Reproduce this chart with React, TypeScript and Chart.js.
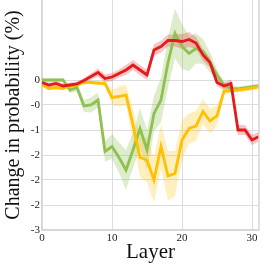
import React, { useEffect, useRef } from "react";
import { Chart, registerables } from "chart.js";

Chart.register(...registerables);

const layers = [0,1,2,3,4,5,6,7,8,9,10,11,12,13,14,15,16,17,18,19,20,21,22,23,24,25,26,27,28,29,30,31];

const greenValues = [0.0, 0.0, 0.0, 0.0, -0.2, -0.15, -0.52, -0.5, -0.4, -1.43, -1.33, -1.55, -1.8, -1.4, -0.97, -1.4, -0.67, -0.4, 0.35, 0.93, 0.67, 0.53, 0.63, 0.57, 0.35, 0.1, -0.1, -0.17, -0.18, -0.16, -0.14, -0.12];
const greenErr = [0.03, 0.03, 0.03, 0.03, 0.06, 0.08, 0.12, 0.15, 0.15, 0.2, 0.25, 0.3, 0.4, 0.35, 0.4, 0.4, 0.35, 0.45, 0.5, 0.5, 0.45, 0.35, 0.3, 0.25, 0.2, 0.12, 0.06, 0.05, 0.05, 0.05, 0.05, 0.05];

const yellowValues = [-0.1, -0.17, -0.15, -0.17, -0.12, -0.1, -0.05, -0.05, -0.06, -0.07, -0.35, -0.33, -0.3, -0.9, -1.55, -1.6, -2.0, -1.33, -1.92, -1.87, -1.2, -0.97, -0.92, -0.63, -0.82, -0.72, -0.22, -0.21, -0.2, -0.18, -0.16, -0.13];
const yellowErr = [0.04, 0.04, 0.04, 0.04, 0.04, 0.04, 0.04, 0.04, 0.04, 0.05, 0.15, 0.2, 0.2, 0.3, 0.4, 0.45, 0.45, 0.45, 0.5, 0.45, 0.4, 0.3, 0.3, 0.25, 0.25, 0.2, 0.08, 0.05, 0.05, 0.05, 0.05, 0.05];

const redValues = [-0.05, -0.1, -0.07, -0.12, -0.1, -0.08, -0.01, 0.07, 0.15, 0.03, 0.06, 0.13, 0.2, 0.3, 0.2, 0.1, 0.6, 0.67, 0.79, 0.79, 0.77, 0.81, 0.74, 0.5, 0.35, -0.05, -0.12, -0.07, -1.0, -1.0, -1.2, -1.13];
const redErr = [0.05, 0.05, 0.05, 0.05, 0.05, 0.05, 0.05, 0.06, 0.08, 0.08, 0.08, 0.08, 0.1, 0.1, 0.1, 0.1, 0.12, 0.12, 0.12, 0.12, 0.15, 0.15, 0.12, 0.12, 0.1, 0.08, 0.08, 0.08, 0.1, 0.1, 0.1, 0.1];

const yTickValues = [0, -0.5, -1, -1.5, -2, -2.5, -3];
const yTickLabels = ["0", "-0", "-1", "-2", "-2", "-2", "-3"];
const xTickValues = [0, 10, 20, 30];
const xTickLabels = ["0", "10", "20", "30"];

const GREEN = "#90c050";
const YELLOW = "#ffc000";
const RED = "#e41a1c";
const GREEN_BAND = "rgba(144,192,80,0.3)";
const YELLOW_BAND = "rgba(255,192,0,0.25)";
const RED_BAND = "rgba(228,26,28,0.25)";

const pts = (vals: number[]) => layers.map((l, i) => ({ x: l, y: vals[i] }));
const band = (vals: number[], err: number[], sign: number) =>
  layers.map((l, i) => ({ x: l, y: vals[i] + sign * err[i] }));

const lineDs = (label: string, vals: number[], color: string) => ({
  label,
  data: pts(vals),
  borderColor: color,
  backgroundColor: color,
  borderWidth: 2.8,
  pointRadius: 0,
  tension: 0,
  fill: false,
});

const bandDs = (label: string, vals: number[], err: number[], sign: number, color: string, fillNext: boolean) => ({
  label,
  data: band(vals, err, sign),
  borderColor: "rgba(0,0,0,0)",
  borderWidth: 0,
  backgroundColor: color,
  pointRadius: 0,
  tension: 0,
  fill: fillNext ? "+1" : false,
});

const rightBorder = {
  id: "rightBorder",
  afterDraw(chart: any) {
    const { ctx, chartArea } = chart;
    ctx.save();
    ctx.strokeStyle = "#d6d6d6";
    ctx.lineWidth = 1.5;
    ctx.beginPath();
    ctx.moveTo(chartArea.right, chartArea.top);
    ctx.lineTo(chartArea.right, chartArea.bottom);
    ctx.stroke();
    ctx.restore();
  },
};

export default function App() {
  const ref = useRef<HTMLCanvasElement | null>(null);
  useEffect(() => {
    document.body.style.margin = "0";
    if (!ref.current) return;
    const font = "'Liberation Serif', 'Times New Roman', serif";
    const chart = new Chart(ref.current, {
      type: "line",
      data: {
        datasets: [
          lineDs("red", redValues, RED),
          lineDs("yellow", yellowValues, YELLOW),
          lineDs("green", greenValues, GREEN),
          bandDs("redUp", redValues, redErr, 1, RED_BAND, true),
          bandDs("redLo", redValues, redErr, -1, RED_BAND, false),
          bandDs("yellowUp", yellowValues, yellowErr, 1, YELLOW_BAND, true),
          bandDs("yellowLo", yellowValues, yellowErr, -1, YELLOW_BAND, false),
          bandDs("greenUp", greenValues, greenErr, 1, GREEN_BAND, true),
          bandDs("greenLo", greenValues, greenErr, -1, GREEN_BAND, false),
        ] as any,
      },
      options: {
        animation: false,
        responsive: false,
        devicePixelRatio: 1,
        layout: { padding: { top: 0, right: 7, left: 0, bottom: 0 } },
        plugins: { legend: { display: false }, tooltip: { enabled: false } },
        scales: {
          x: {
            type: "linear",
            min: 0,
            max: 31,
            afterBuildTicks: (s: any) => {
              s.ticks = xTickValues.map((v) => ({ value: v }));
            },
            afterFit: (s: any) => {
              s.height = 36;
              s.paddingLeft = 0;
              s.paddingRight = 0;
            },
            ticks: {
              autoSkip: false,
              maxRotation: 0,
              padding: 2,
              color: "#222",
              font: { family: font, size: 11 },
              callback: (v: any) => {
                const i = xTickValues.indexOf(Number(v));
                return i >= 0 ? xTickLabels[i] : "";
              },
            },
            grid: { color: "#dcdcdc", lineWidth: 1, drawTicks: false },
            border: { color: "#d6d6d6", width: 1.5 },
            title: {
              display: true,
              text: "Layer",
              color: "#111",
              font: { family: font, size: 21 },
              padding: { top: 0, bottom: 1 },
            },
          },
          y: {
            type: "linear",
            min: -3,
            max: 1.6,
            afterBuildTicks: (s: any) => {
              s.ticks = yTickValues.map((v) => ({ value: v }));
            },
            afterFit: (s: any) => {
              s.width = 42;
              s.paddingTop = 0;
              s.paddingBottom = 0;
            },
            ticks: {
              autoSkip: false,
              padding: 2,
              color: "#222",
              font: { family: font, size: 11 },
              callback: (v: any) => {
                const i = yTickValues.indexOf(Number(v));
                return i >= 0 ? yTickLabels[i] : "";
              },
            },
            grid: { color: "#dcdcdc", lineWidth: 1, drawTicks: false },
            border: { color: "#d6d6d6", width: 1.5 },
            title: {
              display: true,
              text: "Change in probability (%)",
              color: "#111",
              font: { family: font, size: 20 },
              padding: { top: 2, bottom: 0 },
            },
          },
        },
      },
      plugins: [rightBorder],
    });
    return () => chart.destroy();
  }, []);
  return (
    <div style={{ width: 266, height: 266 }}>
      <canvas ref={ref} width={266} height={266} style={{ display: "block" }} />
    </div>
  );
}
